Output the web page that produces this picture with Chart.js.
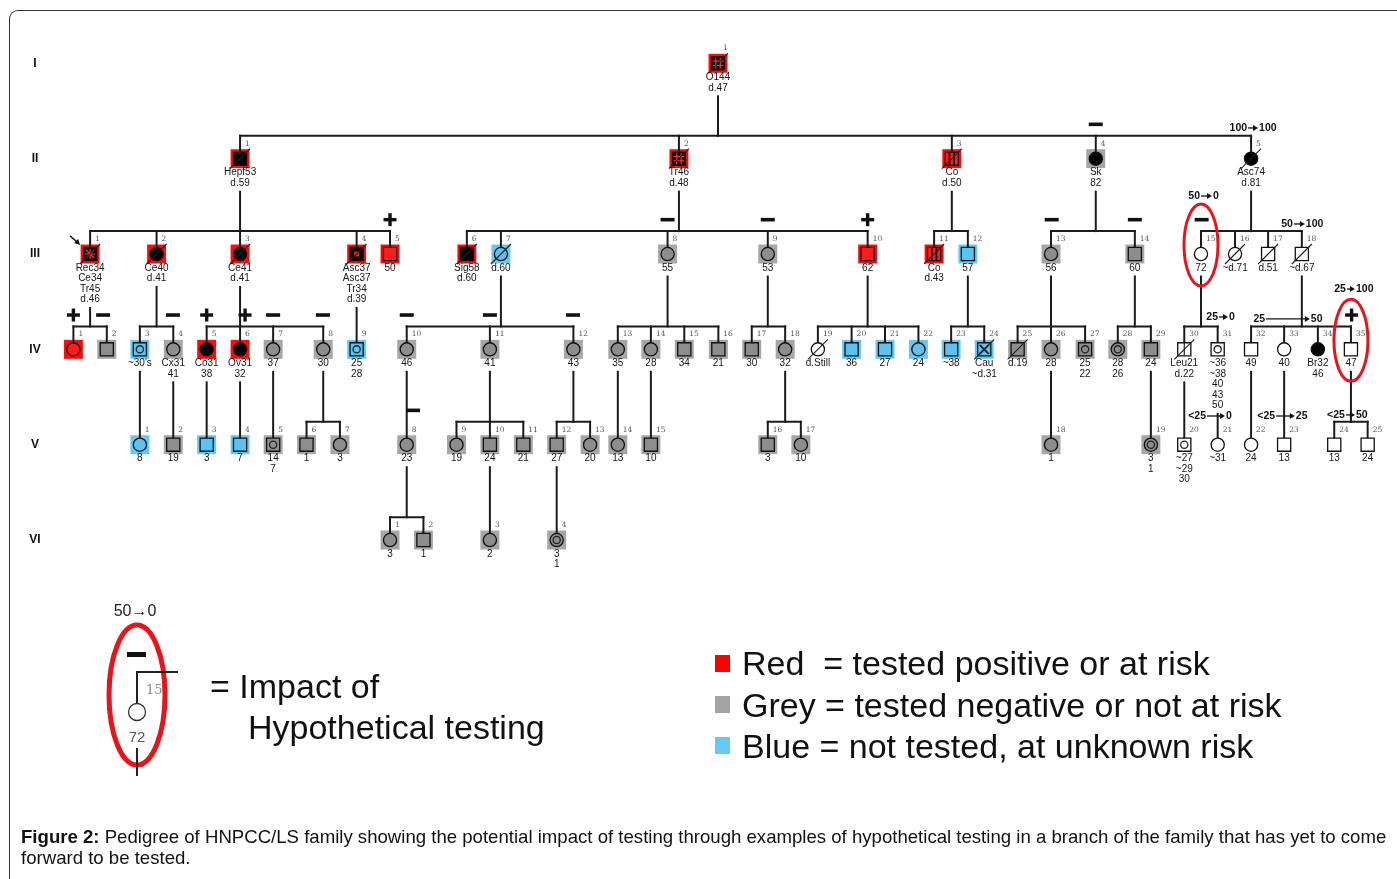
<!DOCTYPE html>
<html>
<head>
<meta charset="utf-8">
<title>Pedigree of HNPCC/LS family</title>
<script src="https://cdn.jsdelivr.net/npm/chart.js@4.4.0/dist/chart.umd.min.js"></script>
<style>
  html, body { margin: 0; padding: 0; background: #fff; }
  #wrap { position: relative; width: 1397px; height: 879px; overflow: hidden;
          font-family: "Liberation Sans", Arial, sans-serif; color: #111; }
  #frame { position: absolute; left: 9px; top: 10px; width: 1600px; height: 1000px;
           border-left: 1px solid #333; border-top: 1px solid #333; border-top-left-radius: 9px; }
  #chartBox { position: absolute; left: 0; top: 0; width: 1397px; height: 879px; }
  #sample { position: absolute; left: 0; top: 0; }
  .big { position: absolute; font-size: 34px; line-height: 40px; white-space: nowrap; color: #111; }
  .sw { position: absolute; width: 15px; height: 17px; }
  #caption { position: absolute; left: 21px; top: 826px; font-size: 18.6px; line-height: 21px;
             white-space: nowrap; color: #111; }
</style>
</head>
<body>
<div id="wrap">
  <div id="frame"></div>
  <div id="chartBox"><canvas id="pedigree"></canvas></div>

  <svg id="sample" width="1397" height="879">
    <text x="135" y="616" font-size="16" text-anchor="middle" fill="#222" font-family="Liberation Sans, Arial">50→0</text>
    <ellipse cx="137" cy="695" rx="28" ry="70" fill="none" stroke="#e8141c" stroke-width="5"/>
    <rect x="127" y="652" width="19" height="5" fill="#111"/>
    <path d="M178 672 H137 V703" fill="none" stroke="#222" stroke-width="2"/>
    <circle cx="137" cy="712" r="8.5" fill="#fff" stroke="#333" stroke-width="1.3"/>
    <text x="146" y="694" font-size="13" fill="#888" font-family="DejaVu Serif, serif">15</text>
    <text x="137" y="742" font-size="15" text-anchor="middle" fill="#555" font-family="Liberation Sans, Arial">72</text>
    <line x1="137" y1="748" x2="137" y2="776" stroke="#222" stroke-width="2"/>
  </svg>
  <div class="big" style="left:210px; top:666px;">= Impact of</div>
  <div class="big" style="left:248px; top:707px;">Hypothetical testing</div>

  <span class="sw" style="left:715px; top:655px; background:#f00;"></span>
  <span class="sw" style="left:715px; top:696px; background:#a3a3a3;"></span>
  <span class="sw" style="left:715px; top:737px; background:#66c9f4;"></span>
  <div class="big" style="left:742px; top:643px;">Red&nbsp; = tested positive or at risk</div>
  <div class="big" style="left:742px; top:685px;">Grey = tested negative or not at risk</div>
  <div class="big" style="left:742px; top:726px;">Blue = not tested, at unknown risk</div>

  <div id="caption"><b>Figure 2:</b> Pedigree of HNPCC/LS family showing the potential impact of testing through examples of hypothetical testing in a branch of the family that has yet to come<br>forward to be tested.</div>
</div>

<script>
// generation labels (roman numerals down the left side)
const genLabels = ['I', 'II', 'III', 'IV', 'V', 'VI'];

// one row per person: [no, column, sex, risk (R red / G grey / B blue / '' none), mark, deceased, text under symbol]
const gen1 = [
  [1, 20.30, 'M', 'R', 'quad', true, ['O144', 'd.47']]
];
const gen2 = [
  [1, 5.99, 'M', 'R', 'fill', true, ['Hepf53', 'd.59']],
  [2, 19.13, 'M', 'R', 'quad', true, ['Tr46', 'd.48']],
  [3, 27.30, 'M', 'R', 'bars', true, ['Co', 'd.50']],
  [4, 31.61, 'F', 'G', 'fill', false, ['Sk', '82']],
  [5, 36.26, 'F', '', 'fill', true, ['Asc74', 'd.81']]
];
const gen3 = [
  [1, 1.50, 'M', 'R', 'star', true, ['Rec34', 'Ce34', 'Tr45', 'd.46']],
  [2, 3.49, 'F', 'R', 'fill', true, ['Ce40', 'd.41']],
  [3, 5.99, 'F', 'R', 'fill', true, ['Ce41', 'd.41']],
  [4, 9.48, 'M', 'R', 'box', true, ['Asc37', 'Asc37', 'Tr34', 'd.39']],
  [5, 10.48, 'M', 'R', '', false, ['50']],
  [6, 12.78, 'M', 'R', 'fill', true, ['Sig58', 'd.60']],
  [7, 13.80, 'F', 'B', '', true, ['d.60']],
  [8, 18.79, 'F', 'G', '', false, ['55']],
  [9, 21.79, 'F', 'G', '', false, ['53']],
  [10, 24.78, 'M', 'R', '', false, ['62']],
  [11, 26.77, 'M', 'R', 'bars', true, ['Co', 'd.43']],
  [12, 27.78, 'M', 'B', '', false, ['57']],
  [13, 30.27, 'F', 'G', '', false, ['56']],
  [14, 32.78, 'M', 'G', '', false, ['60']],
  [15, 34.76, 'F', '', '', false, ['72']],
  [16, 35.78, 'F', '', '', true, ['~d.71']],
  [17, 36.77, 'M', '', '', true, ['d.51']],
  [18, 37.78, 'M', '', '', true, ['~d.67']]
];
const gen4 = [
  [1, 1.00, 'F', 'R', '', false, []],
  [2, 2.00, 'M', 'G', '', false, []],
  [3, 2.99, 'M', 'B', 'dot', false, ["~30's"]],
  [4, 3.99, 'F', 'G', '', false, ['Cx31', '41']],
  [5, 4.99, 'F', 'R', 'fill', false, ['Co31', '38']],
  [6, 5.99, 'F', 'R', 'fill', false, ['Ov31', '32']],
  [7, 6.98, 'F', 'G', '', false, ['37']],
  [8, 8.48, 'F', 'G', '', false, ['30']],
  [9, 9.48, 'M', 'B', 'dot', false, ['25', '28']],
  [10, 10.98, 'F', 'G', '', false, ['46']],
  [11, 13.47, 'F', 'G', '', false, ['41']],
  [12, 15.97, 'F', 'G', '', false, ['43']],
  [13, 17.30, 'F', 'G', '', false, ['35']],
  [14, 18.29, 'F', 'G', '', false, ['28']],
  [15, 19.29, 'M', 'G', '', false, ['34']],
  [16, 20.31, 'M', 'G', '', false, ['21']],
  [17, 21.31, 'M', 'G', '', false, ['30']],
  [18, 22.31, 'F', 'G', '', false, ['32']],
  [19, 23.29, 'F', '', '', true, ['d.Still']],
  [20, 24.30, 'M', 'B', '', false, ['36']],
  [21, 25.30, 'M', 'B', '', false, ['27']],
  [22, 26.30, 'F', 'B', '', false, ['24']],
  [23, 27.28, 'M', 'B', '', false, ['~38']],
  [24, 28.27, 'M', 'B', 'xcross', true, ['Cau', '~d.31']],
  [25, 29.27, 'M', 'G', '', true, ['d.19']],
  [26, 30.27, 'F', 'G', '', false, ['28']],
  [27, 31.29, 'M', 'G', 'dot', false, ['25', '22']],
  [28, 32.27, 'F', 'G', 'dot', false, ['28', '26']],
  [29, 33.26, 'M', 'G', '', false, ['24']],
  [30, 34.26, 'M', '', 'vline', true, ['Leu21', 'd.22']],
  [31, 35.26, 'M', '', 'dot', false, ['~36', '~38', '40', '43', '50']],
  [32, 36.26, 'M', '', '', false, ['49']],
  [33, 37.25, 'F', '', '', false, ['40']],
  [34, 38.26, 'F', '', 'fill', false, ['Br32', '46']],
  [35, 39.25, 'M', '', '', false, ['47']]
];
const gen5 = [
  [1, 2.99, 'F', 'B', '', false, ['8']],
  [2, 3.99, 'M', 'G', '', false, ['19']],
  [3, 4.99, 'M', 'B', '', false, ['3']],
  [4, 5.99, 'M', 'B', '', false, ['7']],
  [5, 6.98, 'M', 'G', 'dot', false, ['14', '7']],
  [6, 7.98, 'M', 'G', '', false, ['1']],
  [7, 8.98, 'F', 'G', '', false, ['3']],
  [8, 10.98, 'F', 'G', '', false, ['23']],
  [9, 12.47, 'F', 'G', '', false, ['19']],
  [10, 13.47, 'M', 'G', '', false, ['24']],
  [11, 14.47, 'M', 'G', '', false, ['21']],
  [12, 15.47, 'M', 'G', '', false, ['27']],
  [13, 16.47, 'F', 'G', '', false, ['20']],
  [14, 17.30, 'F', 'G', '', false, ['13']],
  [15, 18.29, 'M', 'G', '', false, ['10']],
  [16, 21.79, 'M', 'G', '', false, ['3']],
  [17, 22.78, 'F', 'G', '', false, ['10']],
  [18, 30.27, 'F', 'G', '', false, ['1']],
  [19, 33.26, 'F', 'G', 'dot', false, ['3', '1']],
  [20, 34.26, 'M', '', 'dot', false, ['~27', '~29', '30']],
  [21, 35.26, 'F', '', '', false, ['~31']],
  [22, 36.26, 'F', '', '', false, ['24']],
  [23, 37.25, 'M', '', '', false, ['13']],
  [24, 38.75, 'M', '', '', false, ['13']],
  [25, 39.75, 'M', '', '', false, ['24']]
];
const gen6 = [
  [1, 10.48, 'F', 'G', '', false, ['3']],
  [2, 11.48, 'M', 'G', '', false, ['1']],
  [3, 13.47, 'F', 'G', '', false, ['2']],
  [4, 15.47, 'F', 'G', 'dot', false, ['3', '1']]
];

// [parent generation, parent no, children no's in next generation]
const families = [
  [1, 1, [1, 2, 3, 4, 5]],
  [2, 1, [1, 2, 3, 4, 5]], [2, 2, [6, 7, 8, 9, 10]], [2, 3, [11, 12]],
  [2, 4, [13, 14]], [2, 5, [15, 16, 17, 18]],
  [3, 1, [1, 2]], [3, 2, [3, 4]], [3, 3, [5, 6, 7, 8]], [3, 4, [9]],
  [3, 7, [10, 11, 12]], [3, 8, [13, 14, 15, 16]], [3, 9, [17, 18]],
  [3, 10, [19, 20, 21, 22]], [3, 12, [23, 24]], [3, 13, [25, 26, 27]],
  [3, 14, [28, 29]], [3, 15, [30, 31]], [3, 18, [32, 33, 34, 35]],
  [4, 3, [1]], [4, 4, [2]], [4, 5, [3]], [4, 6, [4]], [4, 7, [5]], [4, 8, [6, 7]],
  [4, 10, [8]], [4, 11, [9, 10, 11]], [4, 12, [12, 13]], [4, 13, [14]], [4, 14, [15]],
  [4, 18, [16, 17]], [4, 26, [18]], [4, 29, [19]], [4, 30, [20]], [4, 31, [21]],
  [4, 32, [22]], [4, 33, [23]], [4, 35, [24, 25]],
  [5, 8, [1, 2]], [5, 10, [3]], [5, 12, [4]]
];

// test results shown above a person: [generation, column, sign]
const testSigns = [
  [2, 31.61, '-'],
  [3, 10.48, '+'], [3, 18.79, '-'], [3, 21.79, '-'], [3, 24.78, '+'],
  [3, 30.29, '-'], [3, 32.78, '-'], [3, 34.78, '-'],
  [4, 1.00, '+'], [4, 1.89, '-'], [4, 3.98, '-'], [4, 4.99, '+'], [4, 6.14, '+'],
  [4, 6.98, '-'], [4, 8.47, '-'], [4, 10.98, '-'], [4, 13.47, '-'], [4, 15.96, '-'],
  [4, 39.27, '+'],
  [5, 11.17, '-']
];

// hypothetical risk change: [from, to, level, arrow start column, arrow end column]
const hypoLabels = [
  ['100', '100', 1.678, 36.14, 36.47],
  ['50', '0', 2.392, 34.73, 35.09],
  ['50', '100', 2.685, 37.51, 37.87],
  ['25', '0', 3.660, 35.27, 35.57],
  ['25', '50', 3.681, 36.68, 38.02],
  ['25', '100', 3.367, 39.10, 39.37],
  ['<25', '0', 4.699, 34.91, 35.48],
  ['<25', '25', 4.699, 36.98, 37.57],
  ['<25', '50', 4.688, 39.07, 39.37]
];

// people ringed in red (hypothetical tests) and the proband
const hypoCircled = [[3, 15], [4, 35]];
const proband = [3, 1];

const people = [];
[gen1, gen2, gen3, gen4, gen5, gen6].forEach((list, i) => {
  list.forEach(([no, col, sex, risk, mark, dead, text]) => {
    people.push({ g: i + 1, no, x: col, sex, risk, mark, dead, text });
  });
});
const find = (g, no) => people.find(p => p.g === g && p.no === no);

const riskColor = { R: '#ff0a0a', G: '#a6a6a6', B: '#66c9f4' };
const innerColor = { R: '#ff1c1c', G: '#8d8d8d', B: '#5cc2f0', '': '#ffffff' };
const darkMarks = ['fill', 'quad', 'star', 'box'];
const highlighted = people.filter(p => p.risk);

function line(ctx, x1, y1, x2, y2) {
  ctx.beginPath();
  ctx.moveTo(x1, y1);
  ctx.lineTo(x2, y2);
  ctx.stroke();
}

function arrow(ctx, x1, x2, y) {
  line(ctx, x1, y, x2 - 3, y);
  ctx.beginPath();
  ctx.moveTo(x2, y);
  ctx.lineTo(x2 - 5, y - 3);
  ctx.lineTo(x2 - 5, y + 3);
  ctx.closePath();
  ctx.fill();
}

const pedigreeDraw = {
  id: 'pedigreeDraw',
  // connecting lines go on top of the coloured boxes but under the symbols
  beforeDatasetDraw(chart, args) {
    if (args.index !== 0) return;
    const ctx = chart.ctx, xs = chart.scales.x, ys = chart.scales.y;
    ctx.save();
    ctx.strokeStyle = '#1b1b1b';
    ctx.lineWidth = 2;
    ctx.lineCap = 'square';
    families.forEach(([g, no, kids]) => {
      const par = find(g, no);
      const px = xs.getPixelForValue(par.x);
      const start = ys.getPixelForValue(g) + 12 + par.text.length * 10.5;
      const cy = ys.getPixelForValue(g + 1) - 6;
      const ch = kids.map(k => find(g + 1, k));
      if (ch.length === 1 && Math.abs(ch[0].x - par.x) < 0.05) {
        line(ctx, px, start, px, cy);
        return;
      }
      const barY = ys.getPixelForValue(g + 1 - 0.24);
      const cxs = ch.map(c => xs.getPixelForValue(c.x));
      line(ctx, px, start, px, barY);
      line(ctx, Math.min(px, ...cxs), barY, Math.max(px, ...cxs), barY);
      cxs.forEach(cx => line(ctx, cx, barY, cx, cy));
    });
    ctx.restore();
  },
  afterDatasetsDraw(chart) {
    const ctx = chart.ctx, xs = chart.scales.x, ys = chart.scales.y;
    ctx.save();

    // inner marks of the symbols
    people.forEach(p => {
      const x = xs.getPixelForValue(p.x), y = ys.getPixelForValue(p.g);
      const h = 6.5;
      ctx.lineWidth = 1.2;
      if (p.mark === 'quad') {
        ctx.strokeStyle = '#ff3b3b';
        line(ctx, x - 2.2, y - h + 1, x - 2.2, y + h - 1);
        line(ctx, x + 2.2, y - h + 1, x + 2.2, y + h - 1);
        line(ctx, x - h + 1, y - 2.2, x + h - 1, y - 2.2);
        line(ctx, x - h + 1, y + 2.2, x + h - 1, y + 2.2);
      } else if (p.mark === 'bars') {
        ctx.strokeStyle = '#111';
        ctx.lineWidth = 1.8;
        line(ctx, x - 2.3, y - h, x - 2.3, y + h);
        line(ctx, x + 2.3, y - h, x + 2.3, y + h);
      } else if (p.mark === 'star') {
        ctx.strokeStyle = '#ff3b3b';
        line(ctx, x, y - 5, x, y + 5);
        line(ctx, x - 5, y, x + 5, y);
        line(ctx, x - 4, y - 4, x + 4, y + 4);
        line(ctx, x - 4, y + 4, x + 4, y - 4);
      } else if (p.mark === 'box') {
        ctx.fillStyle = '#ff1c1c';
        ctx.fillRect(x - 2.5, y - 2.5, 5, 5);
      } else if (p.mark === 'dot') {
        ctx.strokeStyle = '#222';
        ctx.lineWidth = 1.3;
        ctx.beginPath();
        ctx.arc(x, y, 3.6, 0, Math.PI * 2);
        ctx.stroke();
      } else if (p.mark === 'xcross') {
        ctx.strokeStyle = '#111';
        ctx.lineWidth = 1.6;
        line(ctx, x - 4.5, y - 4.5, x + 4.5, y + 4.5);
        line(ctx, x - 4.5, y + 4.5, x + 4.5, y - 4.5);
      } else if (p.mark === 'vline') {
        ctx.strokeStyle = '#222';
        line(ctx, x, y - h, x, y + h);
      }
      if (p.dead) {
        ctx.strokeStyle = '#222';
        ctx.lineWidth = 1.1;
        line(ctx, x - 10, y + 10, x + 10, y - 10);
      }
      // individual number
      ctx.fillStyle = '#555';
      ctx.font = '7.5px "DejaVu Serif", serif';
      ctx.textAlign = 'left';
      ctx.textBaseline = 'middle';
      ctx.fillText(String(p.no), x + 5, y - 15);
      // age / cancer lines
      ctx.fillStyle = '#151515';
      ctx.font = '10px "Liberation Sans", Arial, sans-serif';
      ctx.textAlign = 'center';
      p.text.forEach((t, i) => ctx.fillText(t, x, y + 14 + i * 10.5));
    });

    // test result signs
    ctx.fillStyle = '#111';
    testSigns.forEach(([g, col, s]) => {
      const x = xs.getPixelForValue(col), y = ys.getPixelForValue(g - 0.36);
      if (s === '+') {
        ctx.fillRect(x - 6.5, y - 1.7, 13, 3.4);
        ctx.fillRect(x - 1.7, y - 6.5, 3.4, 13);
      } else {
        ctx.fillRect(x - 7, y - 1.8, 14, 3.6);
      }
    });

    // hypothetical risk changes
    ctx.font = 'bold 10.5px "Liberation Sans", Arial, sans-serif';
    ctx.strokeStyle = '#111';
    ctx.lineWidth = 1.3;
    hypoLabels.forEach(([a, b, lvl, c1, c2]) => {
      const x1 = xs.getPixelForValue(c1), x2 = xs.getPixelForValue(c2), y = ys.getPixelForValue(lvl);
      ctx.textAlign = 'right';
      ctx.fillText(a, x1, y);
      arrow(ctx, x1 + 1, x2, y);
      ctx.textAlign = 'left';
      ctx.fillText(b, x2 + 1, y);
    });

    // red rings
    ctx.strokeStyle = '#e8141c';
    ctx.lineWidth = 3;
    hypoCircled.forEach(([g, no]) => {
      const p = find(g, no);
      const x = xs.getPixelForValue(p.x), y = ys.getPixelForValue(p.g);
      ctx.beginPath();
      ctx.ellipse(x, y - 9, 17, 41, 0, 0, Math.PI * 2);
      ctx.stroke();
    });

    // proband arrow
    const pb = find(proband[0], proband[1]);
    const bx = xs.getPixelForValue(pb.x), by = ys.getPixelForValue(pb.g);
    ctx.strokeStyle = '#111';
    ctx.lineWidth = 1.6;
    line(ctx, bx - 20, by - 18, bx - 13, by - 12);
    ctx.beginPath();
    ctx.moveTo(bx - 10, by - 9);
    ctx.lineTo(bx - 16, by - 11);
    ctx.lineTo(bx - 12, by - 15);
    ctx.closePath();
    ctx.fill();

    // generation numerals
    ctx.font = 'bold 12px "Liberation Sans", Arial, sans-serif';
    ctx.textAlign = 'center';
    genLabels.forEach((lab, i) => {
      ctx.fillText(lab, xs.getPixelForValue(-0.15), ys.getPixelForValue(i + 1));
    });
    ctx.restore();
  }
};

const ctx = document.getElementById('pedigree').getContext('2d');
new Chart(ctx, {
  type: 'scatter',
  data: {
    datasets: [
      {
        label: 'people',
        data: people.map(p => ({ x: p.x, y: p.g })),
        pointStyle: people.map(p => p.sex === 'M' ? 'rect' : 'circle'),
        pointRadius: people.map(p => p.sex === 'M' ? 9.3 : 6.6),
        pointHoverRadius: people.map(p => p.sex === 'M' ? 9.3 : 6.6),
        pointBackgroundColor: people.map(p => darkMarks.includes(p.mark) ? '#000' : innerColor[p.risk]),
        pointBorderColor: '#111',
        pointBorderWidth: 1.3
      },
      {
        label: 'risk',
        data: highlighted.map(p => ({ x: p.x, y: p.g })),
        pointStyle: 'rect',
        pointRadius: 13.4,
        pointHoverRadius: 13.4,
        pointBackgroundColor: highlighted.map(p => riskColor[p.risk]),
        pointBorderWidth: 0
      }
    ]
  },
  options: {
    responsive: true,
    maintainAspectRatio: false,
    animation: false,
    events: [],
    layout: { autoPadding: false, padding: 0 },
    plugins: { legend: { display: false }, tooltip: { enabled: false } },
    scales: {
      x: { type: 'linear', display: false, min: -1.1976, max: 40.629 },
      y: { type: 'linear', display: false, reverse: true, min: 0.336, max: 9.555 }
    }
  },
  plugins: [pedigreeDraw]
});
</script>
</body>
</html>
